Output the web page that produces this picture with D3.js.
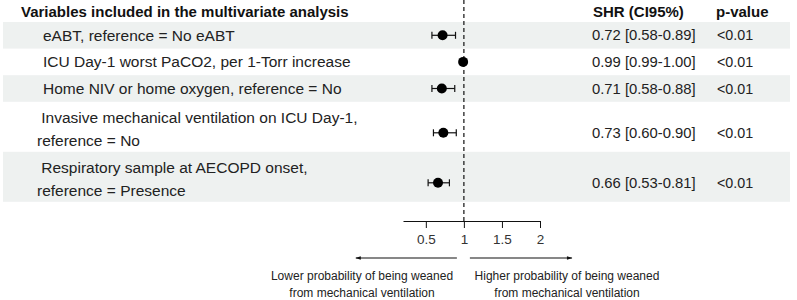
<!DOCTYPE html>
<html>
<head>
<meta charset="utf-8">
<script src="https://cdn.jsdelivr.net/npm/d3@7"></script>
<style>
  body { margin: 0; background: #fff; }
  text { font-family: "Liberation Sans", Arial, sans-serif; }
</style>
</head>
<body>
<svg width="797" height="300"></svg>
<script>
// rows of the forest plot
const labels = [
    ["eABT, reference = No eABT"],
    ["ICU Day-1 worst PaCO2, per 1-Torr increase"],
    ["Home NIV or home oxygen, reference = No"],
    [" Invasive mechanical ventilation on ICU Day-1,", "reference = No"],
    [" Respiratory sample at AECOPD onset,", "reference = Presence"]
]
const shr = [0.72, 0.99, 0.71, 0.73, 0.66]
const ciLow = [0.58, 0.99, 0.58, 0.60, 0.53]
const ciHigh = [0.89, 1.00, 0.88, 0.90, 0.81]
const shrText = ["0.72 [0.58-0.89]", "0.99 [0.99-1.00]", "0.71 [0.58-0.88]", "0.73 [0.60-0.90]", "0.66 [0.53-0.81]"]
const pText = ["<0.01", "<0.01", "<0.01", "<0.01", "<0.01"]
const ticks = [0.5, 1, 1.5, 2]

let svg = d3.select("svg")

let x = d3.scaleLinear()
    .domain([0.2, 2])
    .range([403, 540])

// row bands: one line = 26.6px, two lines = 50px
let rowTop = 22
let rows = labels.map(function (l, i) {
    let h = l.length > 1 ? 50 : 26.6
    let r = {y0: rowTop, h: h, i: i}
    rowTop += h
    return r
})

svg.selectAll(".band")
    .data(rows.filter(r => r.i % 2 === 0))
    .enter()
    .append("rect")
    .attr("x", 3)
    .attr("y", d => d.y0)
    .attr("width", 787)
    .attr("height", d => d.h)
    .attr("fill", "#eef1f0")

// headers
svg.append("text")
    .attr("x", 21).attr("y", 17)
    .attr("font-weight", "bold").attr("font-size", "15px").attr("fill", "#111")
    .text("Variables included in the multivariate analysis")
svg.append("text")
    .attr("x", 593).attr("y", 17)
    .attr("font-weight", "bold").attr("font-size", "15px").attr("fill", "#111")
    .text("SHR (CI95%)")
svg.append("text")
    .attr("x", 716).attr("y", 17)
    .attr("font-weight", "bold").attr("font-size", "15px").attr("fill", "#111")
    .text("p-value")

function midY(r) {
    return r.h > 30 ? r.y0 + r.h / 2 + 6 : r.y0 + r.h / 2
}

// row labels
rows.forEach(function (r) {
    let l = labels[r.i]
    l.forEach(function (line, j) {
        let cy = l.length > 1 ? r.y0 + 15.5 + j * 23 : r.y0 + r.h / 2
        svg.append("text")
            .attr("x", l.length > 1 ? 37 : 43)
            .attr("y", cy)
            .attr("dy", "0.35em")
            .attr("font-size", "15.5px")
            .attr("fill", "#222")
            .style("white-space", "pre")
            .text(line)
    })
    svg.append("text")
        .attr("x", 592).attr("y", midY(r)).attr("dy", "0.35em")
        .attr("font-size", "14.8px").attr("fill", "#222")
        .text(shrText[r.i])
    svg.append("text")
        .attr("x", 717).attr("y", midY(r)).attr("dy", "0.35em")
        .attr("font-size", "14.3px").attr("fill", "#222")
        .text(pText[r.i])
})

// reference line at 1
svg.append("line")
    .attr("x1", x(1)).attr("x2", x(1))
    .attr("y1", 0).attr("y2", 221)
    .attr("stroke", "#111").attr("stroke-width", 1.2)
    .attr("stroke-dasharray", "4,3")

// CI whiskers and points
let g = svg.append("g")
rows.forEach(function (r) {
    let y = midY(r)
    g.append("line")
        .attr("x1", x(ciLow[r.i])).attr("x2", x(ciHigh[r.i]))
        .attr("y1", y).attr("y2", y)
        .attr("stroke", "#111").attr("stroke-width", 1.2)
    ;[ciLow[r.i], ciHigh[r.i]].forEach(function (v) {
        g.append("line")
            .attr("x1", x(v)).attr("x2", x(v))
            .attr("y1", y - 3.5).attr("y2", y + 3.5)
            .attr("stroke", "#111").attr("stroke-width", 1.2)
    })
    g.append("circle")
        .attr("cx", x(shr[r.i])).attr("cy", y)
        .attr("r", 5).attr("fill", "#000")
})

// axis
let xAxis = d3.axisBottom(x).tickValues(ticks).tickSize(7).tickSizeOuter(0)
    .tickFormat(d3.format("~g"))
let ax = svg.append("g")
    .attr("transform", "translate(0,221)")
    .call(xAxis)
ax.select(".domain").attr("stroke", "#111")
ax.selectAll(".tick line").attr("stroke", "#111")
ax.selectAll(".tick text")
    .attr("font-family", "Liberation Sans, Arial, sans-serif")
    .attr("font-size", "13.5px").attr("fill", "#333").attr("y", 13)

// arrows
svg.append("defs").append("marker")
    .attr("id", "head")
    .attr("viewBox", "0 0 10 10")
    .attr("refX", 9).attr("refY", 5)
    .attr("markerWidth", 7).attr("markerHeight", 5)
    .attr("orient", "auto")
    .append("path")
    .attr("d", "M0,2L10,5L0,8Z")
    .attr("fill", "#111")

svg.append("line")
    .attr("x1", x(1) - 7).attr("x2", x(1) - 108)
    .attr("y1", 258).attr("y2", 258)
    .attr("stroke", "#111").attr("stroke-width", 1.1)
    .attr("marker-end", "url(#head)")
svg.append("line")
    .attr("x1", x(1) + 6).attr("x2", x(1) + 108)
    .attr("y1", 258).attr("y2", 258)
    .attr("stroke", "#111").attr("stroke-width", 1.1)
    .attr("marker-end", "url(#head)")

let notes = [
    {cx: 362, lines: ["Lower probability of being weaned", "from mechanical ventilation"]},
    {cx: 567, lines: ["Higher probability of being weaned", "from mechanical ventilation"]}
]
notes.forEach(function (n) {
    n.lines.forEach(function (line, j) {
        svg.append("text")
            .attr("x", n.cx).attr("y", 280 + j * 17)
            .attr("text-anchor", "middle")
            .attr("font-size", "12px").attr("fill", "#222")
            .text(line)
    })
})
</script>
</body>
</html>
